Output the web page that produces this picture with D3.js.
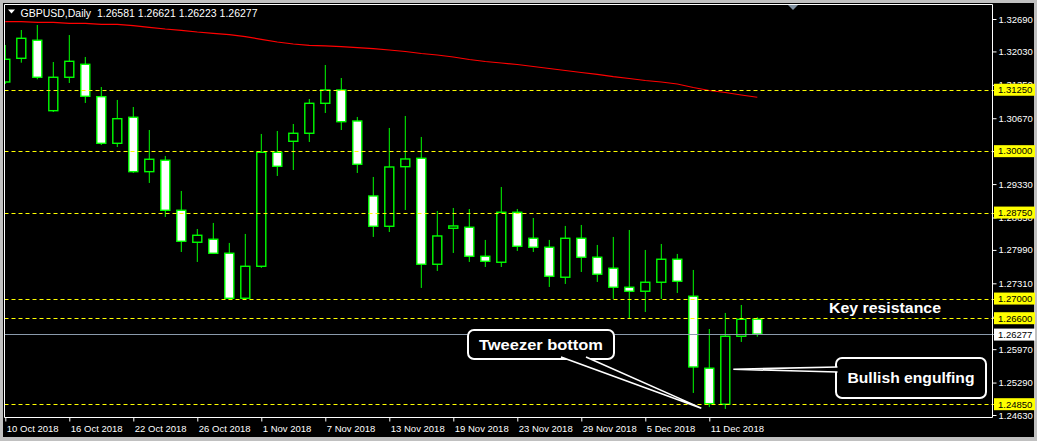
<!DOCTYPE html>
<html><head><meta charset="utf-8">
<script src="https://cdn.jsdelivr.net/npm/d3@7"></script>
<style>
html,body{margin:0;padding:0;background:#c0c0c0;}
svg{display:block;}
text{font-family:"Liberation Sans",Arial,sans-serif;}
</style></head>
<body>
<svg id="chart" width="1037" height="441"></svg>
<script>
const dates = ["2018-10-10","2018-10-11","2018-10-12","2018-10-15","2018-10-16","2018-10-17","2018-10-18","2018-10-19",
"2018-10-22","2018-10-23","2018-10-24","2018-10-25","2018-10-26","2018-10-29","2018-10-30","2018-10-31",
"2018-11-01","2018-11-02","2018-11-05","2018-11-06","2018-11-07","2018-11-08","2018-11-09","2018-11-12",
"2018-11-13","2018-11-14","2018-11-15","2018-11-16","2018-11-19","2018-11-20","2018-11-21","2018-11-22",
"2018-11-23","2018-11-26","2018-11-27","2018-11-28","2018-11-29","2018-11-30","2018-12-03","2018-12-04",
"2018-12-05","2018-12-06","2018-12-07","2018-12-10","2018-12-11","2018-12-12","2018-12-13","2018-12-14"];
const open = [1.31408,1.3189,1.32257,1.30824,1.31504,1.31768,1.31109,1.3016,1.3069,1.29583,1.29815,1.28797,1.28146,1.28207,1.27922,1.27006,1.27657,1.29977,1.30201,1.30364,1.30974,1.31245,1.30614,1.29088,1.28471,1.29684,1.29855,1.27698,1.28431,1.28451,1.27861,1.27739,1.28756,1.28227,1.28044,1.27434,1.28227,1.27841,1.27617,1.2723,1.27149,1.27332,1.278,1.27047,1.25582,1.24849,1.26233,1.26581];
const high = [1.32161,1.32466,1.32568,1.31815,1.32364,1.31917,1.31306,1.31042,1.30899,1.30431,1.29902,1.2919,1.28416,1.28539,1.28132,1.28315,1.3035,1.30411,1.30553,1.31062,1.31754,1.31489,1.30696,1.29475,1.30472,1.30716,1.30289,1.28783,1.28844,1.28823,1.28193,1.29271,1.28823,1.2864,1.28193,1.28478,1.28498,1.28091,1.28254,1.28396,1.27989,1.28111,1.27908,1.27582,1.26381,1.26707,1.2687,1.26621];
const low = [1.31367,1.31801,1.31463,1.30797,1.31388,1.30981,1.30126,1.30085,1.29556,1.29353,1.28661,1.27948,1.27745,1.27908,1.26972,1.26972,1.27623,1.29495,1.29617,1.30187,1.30777,1.30431,1.29556,1.28254,1.28355,1.28803,1.27216,1.27562,1.27928,1.27745,1.27643,1.27643,1.27969,1.27948,1.27236,1.27297,1.27541,1.27338,1.26992,1.26585,1.26727,1.26992,1.27114,1.25079,1.2479,1.24753,1.26117,1.26223];
const close = [1.3187,1.32297,1.31504,1.31504,1.31829,1.31117,1.3016,1.30661,1.29583,1.29835,1.28797,1.28166,1.28288,1.27922,1.27006,1.27657,1.29977,1.29692,1.30364,1.30974,1.31245,1.306,1.29733,1.28471,1.29678,1.29841,1.27698,1.28274,1.28478,1.27861,1.27759,1.28756,1.28064,1.28044,1.27454,1.28227,1.27841,1.27495,1.2723,1.27149,1.27332,1.278,1.27352,1.25608,1.24861,1.26233,1.26579,1.26277];
const ma = [1.32635,1.32635,1.32623,1.32623,1.32602,1.32602,1.32582,1.32582,1.32554,1.32521,1.32486,1.3246,1.32425,1.32399,1.32371,1.3233,1.32277,1.32222,1.32181,1.32155,1.32145,1.32126,1.32106,1.32086,1.32059,1.32029,1.31988,1.31957,1.31917,1.31866,1.31825,1.31795,1.31764,1.31723,1.31683,1.31642,1.31601,1.31561,1.31516,1.31479,1.31438,1.31408,1.31367,1.31296,1.31235,1.31194,1.31143,1.31097];
const priceTicks = [1.32690,1.32030,1.31350,1.30670,1.30000,1.29330,1.28650,1.27990,1.27310,1.26630,1.25970,1.25290,1.24630];
const levels = [1.3125,1.3,1.2875,1.27,1.266,1.2485];
const currentPrice = 1.26277;
const dateTickLabels = ["10 Oct 2018","16 Oct 2018","22 Oct 2018","26 Oct 2018","1 Nov 2018","7 Nov 2018","13 Nov 2018","19 Nov 2018","23 Nov 2018","29 Nov 2018","5 Dec 2018","11 Dec 2018"];
const headerText = "GBPUSD,Daily  1.26581 1.26621 1.26223 1.26277";

const svg = d3.select("#chart");
const W = 1037, H = 441;
const plot = {l:4.5, t:4.5, r:992.5, b:417.5};

const x = d3.scalePoint().domain(dates).range([5.3, 757.3]);
const y = d3.scaleLinear().domain([1.2463, 1.3269]).range([415, 19]);

// background
svg.append("rect").attr("x",0).attr("y",0).attr("width",W).attr("height",H).attr("fill","#c0c0c0");
svg.append("rect").attr("x",3).attr("y",3).attr("width",1031).attr("height",434).attr("fill","#000");

svg.append("defs").append("clipPath").attr("id","clip")
  .append("rect").attr("x",plot.l+0.5).attr("y",plot.t+0.5).attr("width",plot.r-plot.l-1).attr("height",plot.b-plot.t-1);
const g = svg.append("g").attr("clip-path","url(#clip)");

// level lines
svg.selectAll("line.lvl").data(levels).join("line").attr("class","lvl")
  .attr("x1",plot.l).attr("x2",995).attr("y1",d=>Math.round(y(d))+0.5).attr("y2",d=>Math.round(y(d))+0.5)
  .attr("stroke","#ffff00").attr("stroke-width",1).attr("stroke-dasharray","4,3");
// current price line
svg.append("line").attr("x1",plot.l).attr("x2",995)
  .attr("y1",Math.round(y(currentPrice))+0.5).attr("y2",Math.round(y(currentPrice))+0.5)
  .attr("stroke","#8a9aab").attr("stroke-width",1);

// moving average
g.append("path").datum(ma.map((v,i)=>[dates[i],v]))
  .attr("d", d3.line().x(d=>x(d[0])).y(d=>y(d[1])))
  .attr("fill","none").attr("stroke","#ff0000").attr("stroke-width",1.2);

// candles
const candles = dates.map((d,i)=>({d, o:open[i], h:high[i], l:low[i], c:close[i]}));
const cg = g.selectAll("g.c").data(candles).join("g").attr("class","c");
cg.append("line").attr("x1",d=>x(d.d)).attr("x2",d=>x(d.d))
  .attr("y1",d=>y(d.h)).attr("y2",d=>y(d.l)).attr("stroke","#00ff00").attr("stroke-width",1);
cg.append("rect").attr("x",d=>x(d.d)-4.5).attr("width",9)
  .attr("y",d=>y(Math.max(d.o,d.c))).attr("height",d=>Math.max(1,Math.abs(y(d.o)-y(d.c))))
  .attr("fill",d=>d.c>=d.o?"#000":"#fff").attr("stroke","#00ff00").attr("stroke-width",1.4);

// frame
const frame = svg.append("g").attr("stroke","#fff").attr("stroke-width",1).attr("fill","none");
frame.append("path").attr("d",`M${plot.l},${plot.b}V${plot.t}H${plot.r}V${plot.b}H${plot.l}`);

// right axis
const ya = svg.append("g").attr("transform",`translate(${plot.r},0)`)
  .call(d3.axisRight(y).tickValues(priceTicks).tickSize(4).tickPadding(2).tickFormat(d=>d.toFixed(5)));
ya.select(".domain").remove();
ya.selectAll("line").attr("stroke","#fff");
ya.selectAll("text").attr("fill","#fff").attr("font-size","9.5px").attr("font-family","Liberation Sans, Arial, sans-serif");

// level labels
const ll = svg.selectAll("g.ll").data(levels).join("g").attr("class","ll");
ll.append("rect").attr("x",994).attr("width",41).attr("y",d=>y(d)-6).attr("height",12).attr("fill","#ffff00");
ll.append("text").attr("x",998).attr("y",d=>y(d)).attr("dy","0.35em").attr("font-size","9.5px").attr("fill","#000").text(d=>d.toFixed(5));
const cp = svg.append("g");
cp.append("rect").attr("x",994).attr("width",41).attr("y",y(currentPrice)-5.5).attr("height",12).attr("fill","#fff");
cp.append("text").attr("x",998).attr("y",y(currentPrice)+0.5).attr("dy","0.35em").attr("font-size","9.5px").attr("fill","#000").text(currentPrice.toFixed(5));

// bottom axis
const tickDates = dates.filter((d,i)=>i%4===0);
const xa = svg.append("g").attr("transform",`translate(0,${plot.b})`)
  .call(d3.axisBottom(x).tickValues(tickDates).tickSize(4).tickFormat((d,i)=>dateTickLabels[i]));
xa.select(".domain").remove();
xa.selectAll("line").attr("stroke","#fff");
xa.selectAll("text").attr("fill","#fff").attr("font-size","9.5px").attr("text-anchor","start")
  .attr("dx","1").attr("y",8).attr("dy","0.71em").attr("font-family","Liberation Sans, Arial, sans-serif");

// header
svg.append("path").attr("d","M8,9.5L15,9.5L11.5,13.5Z").attr("fill","#fff");
svg.append("text").attr("x",20.5).attr("y",16.5).attr("font-size","10.5px").attr("fill","#fff")
  .attr("xml:space","preserve").style("white-space","pre").text(headerText);
// shift marker
svg.append("path").attr("d","M788,5L798,5L793,10Z").attr("fill","#8090a0");

// annotations
function callout(bx,by,bw,bh,b1,b2,tip,label,fs,tl){
  const a = svg.append("g");
  a.append("rect").attr("x",bx).attr("y",by).attr("width",bw).attr("height",bh).attr("rx",6)
    .attr("fill","#000").attr("stroke","#fff").attr("stroke-width",2);
  a.append("path").attr("d",`M${b1[0]},${b1[1]}L${tip[0]},${tip[1]}L${b2[0]},${b2[1]}`)
    .attr("fill","#000").attr("stroke","#fff").attr("stroke-width",1.6).attr("stroke-linejoin","miter");
  a.append("text").attr("x",bx+bw/2).attr("y",by+bh/2).attr("dy","0.36em").attr("text-anchor","middle")
    .attr("font-size",fs+"px").attr("font-weight","bold").attr("fill","#fff")
    .attr("textLength",tl).attr("lengthAdjust","spacingAndGlyphs").text(label);
}
const tipT = [x(dates[44])-8, y(low[44])+1];
callout(468,330,146,29,[561,357],[586,357],tipT,"Tweezer bottom",15,124);
const tipB = [x(dates[45])+8, y(1.2556)];
callout(836,358,150,40,[837.5,367],[837.5,372],tipB,"Bullish engulfing",15,127);
svg.append("text").attr("x",829).attr("y",313).attr("font-size","15.5px").attr("font-weight","bold")
  .attr("fill","#fff").attr("textLength",112).attr("lengthAdjust","spacingAndGlyphs").text("Key resistance");
</script>
</body></html>
